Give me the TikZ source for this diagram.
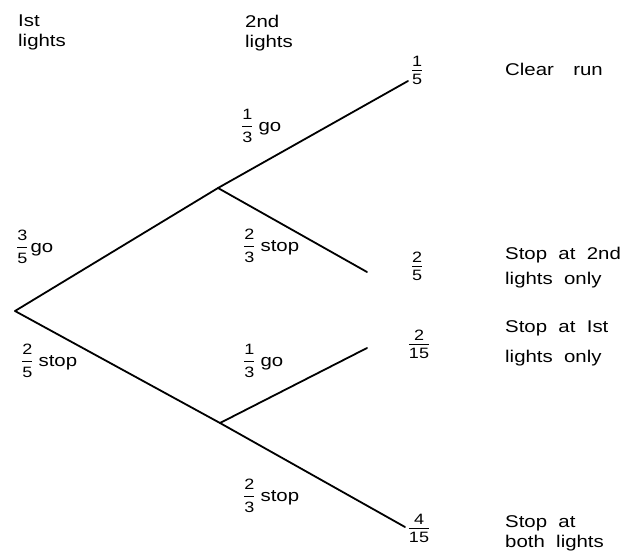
\documentclass[tikz,border=0pt]{standalone}
\usepackage{amsmath}
\usepackage{fontspec}
\setmainfont{Liberation Sans}[FakeStretch=1.2, WordSpace=2]
\newcommand\fracfont{\fontsize{15}{15}\selectfont}
\newcommand\fr[2]{$\genfrac{}{}{1pt}{0}{\hbox{\fracfont #1}}{\hbox{\fracfont #2}}$}
\begin{document}
\begin{tikzpicture}[x=1pt, y=-1pt,
  branch/.style={line width=1.8pt, line cap=round},
  heading/.style={anchor=north west, inner sep=0pt, align=left,
    font=\fontsize{17}{20}\selectfont},
  prob/.style={anchor=west, inner sep=0pt, font=\fontsize{17}{20}\selectfont},
  result/.style={inner sep=0pt}]
\useasboundingbox (0,0) rectangle (626,551);

% tree points
\coordinate (root) at (15,311);
\coordinate (a) at (218,188);
\coordinate (b) at (220,423);
\coordinate (e1) at (408,81);
\coordinate (e2) at (367,272);
\coordinate (e3) at (367,348);
\coordinate (e4) at (405,527);

% branches
\draw[branch] (root) -- (a);
\draw[branch] (root) -- (b);
\draw[branch] (a) -- (e1);
\draw[branch] (a) -- (e2);
\draw[branch] (b) -- (e3);
\draw[branch] (b) -- (e4);

% column headings
\node[heading] (h1) at (18,15) {Ist\\lights};
\node[heading] (h2) at (245,15) {2nd\\lights};

% branch probabilities
\node[prob] (p1) at (16,247) {\fr{3}{5}\hspace{2pt}go};
\node[prob] (p2) at (21,361) {\fr{2}{5}\hspace{5pt}stop};
\node[prob] (p3) at (241,126) {\fr{1}{3}\hspace{5pt}go};
\node[prob] (p4) at (243,246) {\fr{2}{3}\hspace{5pt}stop};
\node[prob] (p5) at (243,361) {\fr{1}{3}\hspace{5pt}go};
\node[prob] (p6) at (243,496) {\fr{2}{3}\hspace{5pt}stop};

% outcome probabilities
\node[result] (r1) at (417,70) {\fr{1}{5}};
\node[result] (r2) at (417,266) {\fr{2}{5}};
\node[result] (r3) at (419,344) {\fr{2}{15}};
\node[result] (r4) at (419,528) {\fr{4}{15}};

% outcomes
\node[heading] (o1) at (505,63) {Clear\hspace{8pt} run};
\node[heading] (o2) at (505,247) {Stop at 2nd\\[5pt]lights only};
\node[heading] (o3) at (505,320) {Stop at Ist\\[10pt]lights only};
\node[heading] (o4) at (505,515) {Stop at\\both lights};
\end{tikzpicture}
\end{document}
